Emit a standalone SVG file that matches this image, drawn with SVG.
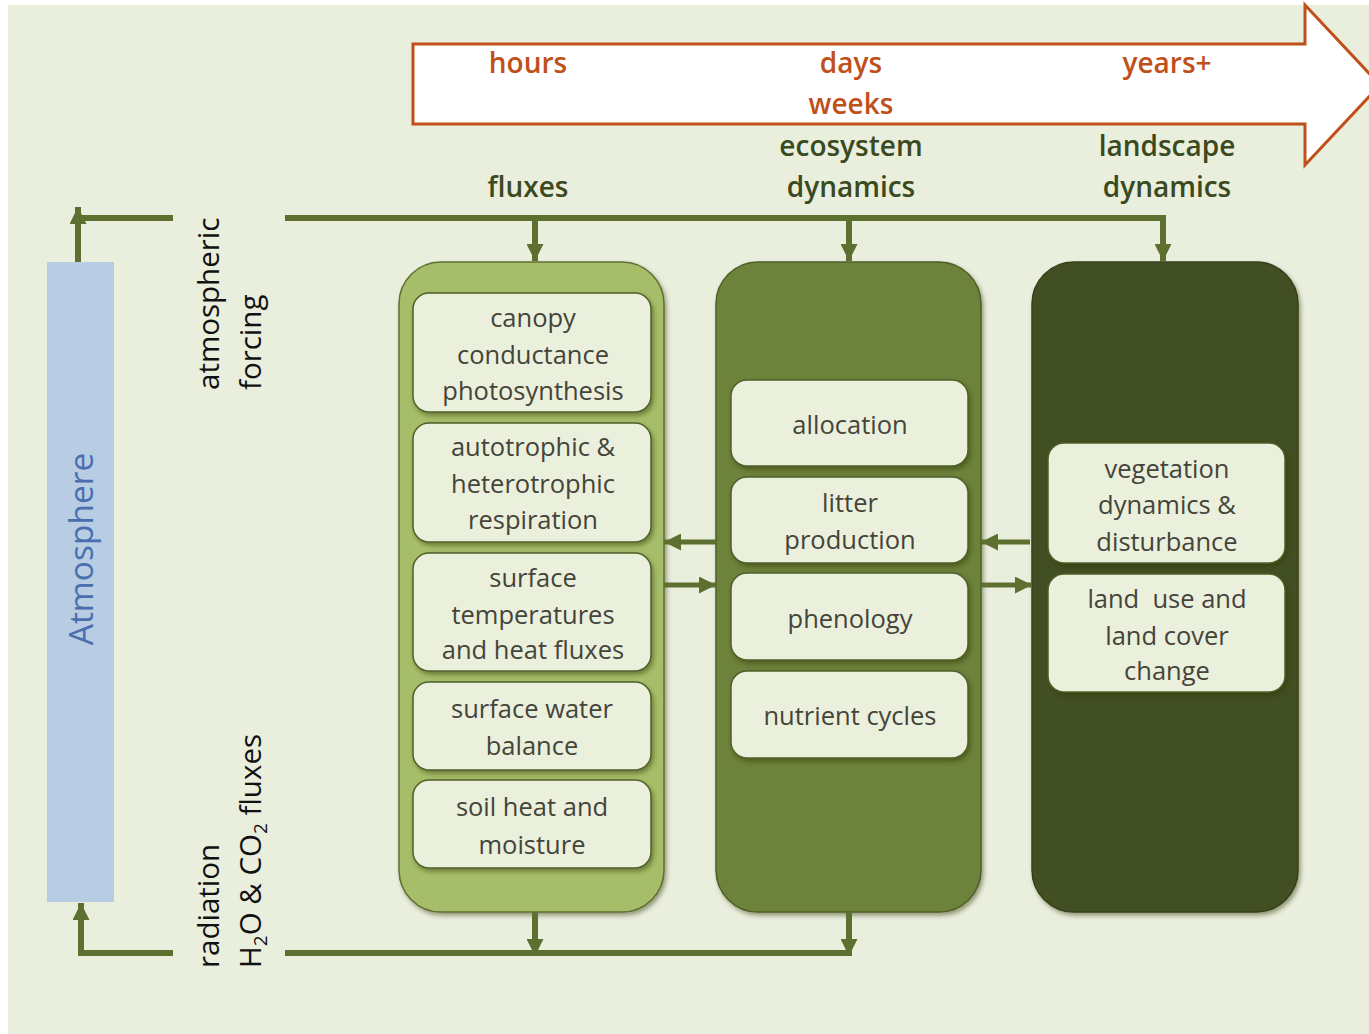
<svg xmlns="http://www.w3.org/2000/svg" width="1369" height="1034" viewBox="0 0 1369 1034">
<defs>
<style>
.bg{fill:#eaeedd}
.t{font-family:"Open Sans","Liberation Sans",sans-serif}
.time{font-family:"Open Sans","Liberation Sans",sans-serif;font-weight:600;font-size:28px;fill:#c0501a;text-anchor:middle}
.hdr{font-family:"Open Sans","Liberation Sans",sans-serif;font-weight:600;font-size:28px;fill:#3b4a1e;text-anchor:middle}
.box{fill:#ebf0dc;stroke:#4e5f28;stroke-width:1.5;filter:url(#sh)}
.bt{font-family:"Open Sans","Liberation Sans",sans-serif;font-size:25.5px;fill:#44443a;text-anchor:middle}
.side{font-family:"Open Sans","Liberation Sans",sans-serif;font-size:29.5px;fill:#111}
.con{fill:none;stroke:#5e7030;stroke-width:6}
.con2{fill:none;stroke:#5e7030;stroke-width:5}
</style>
<filter id="sh" x="-10%" y="-10%" width="125%" height="130%">
<feDropShadow dx="2" dy="3" stdDeviation="2" flood-color="#2a3310" flood-opacity="0.45"/>
</filter>
<marker id="ah" viewBox="0 0 10 10" refX="10" refY="5" markerWidth="17" markerHeight="17" markerUnits="userSpaceOnUse" orient="auto">
<path d="M0,0 L10,5 L0,10 z" fill="#5e7030"/>
</marker>
</defs>
<rect x="0" y="0" width="1369" height="1034" fill="#ffffff"/>
<rect class="bg" x="8" y="5" width="1361" height="1029"/>

<g id="timeline">
<polygon points="413,44 1305,44 1305,5 1380,85 1305,165 1305,124 413,124" fill="#ffffff" stroke="#c0501a" stroke-width="3"/>
<text class="time" x="528" y="73">hours</text>
<text class="time" x="851" y="73">days</text>
<text class="time" x="851" y="114">weeks</text>
<text class="time" x="1167" y="73">years+</text>
</g>

<g id="headers">
<text class="hdr" x="528" y="197">fluxes</text>
<text class="hdr" x="851" y="156">ecosystem</text>
<text class="hdr" x="851" y="197">dynamics</text>
<text class="hdr" x="1167" y="156">landscape</text>
<text class="hdr" x="1167" y="197">dynamics</text>
</g>

<g id="atmosphere">
<rect x="47" y="262" width="67" height="640" fill="#b8cce4"/>
<text class="t" transform="translate(93,549) rotate(-90)" text-anchor="middle" font-size="33.5" fill="#4a6fae">Atmosphere</text>
</g>

<g id="labels">
<text class="side" transform="translate(219,390) rotate(-90)">atmospheric</text>
<text class="side" transform="translate(261,390) rotate(-90)">forcing</text>
<text class="side" transform="translate(219,968) rotate(-90)">radiation</text>
<text class="side" transform="translate(261,968) rotate(-90)">H<tspan font-size="19" dy="6">2</tspan><tspan dy="-6">O &amp; CO</tspan><tspan font-size="19" dy="6">2</tspan><tspan dy="-6"> fluxes</tspan></text>
</g>

<g id="col-fluxes">
<rect x="399" y="262" width="265" height="650" rx="42" fill="#a6bd69" stroke="#5e7030" stroke-width="1.5" filter="url(#sh)"/>
<rect class="box" x="413" y="293" width="238" height="119" rx="16"/>
<text class="bt" x="533" y="327">canopy</text>
<text class="bt" x="533" y="364">conductance</text>
<text class="bt" x="533" y="400">photosynthesis</text>
<rect class="box" x="413" y="423" width="238" height="119" rx="16"/>
<text class="bt" x="533" y="456">autotrophic &amp;</text>
<text class="bt" x="533" y="493">heterotrophic</text>
<text class="bt" x="533" y="529">respiration</text>
<rect class="box" x="413" y="553" width="238" height="118" rx="16"/>
<text class="bt" x="533" y="587">surface</text>
<text class="bt" x="533" y="624">temperatures</text>
<text class="bt" x="533" y="659">and heat fluxes</text>
<rect class="box" x="413" y="682" width="238" height="88" rx="16"/>
<text class="bt" x="532" y="718">surface water</text>
<text class="bt" x="532" y="755">balance</text>
<rect class="box" x="413" y="780" width="238" height="88" rx="16"/>
<text class="bt" x="532" y="816">soil heat and</text>
<text class="bt" x="532" y="854">moisture</text>
</g>

<g id="col-ecosystem">
<rect x="716" y="262" width="265" height="650" rx="42" fill="#6d823a" stroke="#4e5f28" stroke-width="1.5" filter="url(#sh)"/>
<rect class="box" x="731" y="380" width="237" height="86" rx="16"/>
<text class="bt" x="850" y="434">allocation</text>
<rect class="box" x="731" y="477" width="237" height="86" rx="16"/>
<text class="bt" x="850" y="512">litter</text>
<text class="bt" x="850" y="549">production</text>
<rect class="box" x="731" y="573" width="237" height="87" rx="16"/>
<text class="bt" x="850" y="628">phenology</text>
<rect class="box" x="731" y="671" width="237" height="87" rx="16"/>
<text class="bt" x="850" y="725">nutrient cycles</text>
</g>

<g id="col-landscape">
<rect x="1032" y="262" width="266" height="650" rx="42" fill="#435024" stroke="#364019" stroke-width="1.5" filter="url(#sh)"/>
<rect class="box" x="1048" y="443" width="237" height="120" rx="16"/>
<text class="bt" x="1167" y="478">vegetation</text>
<text class="bt" x="1167" y="514">dynamics &amp;</text>
<text class="bt" x="1167" y="551">disturbance</text>
<rect class="box" x="1048" y="574" width="237" height="118" rx="16"/>
<text class="bt" x="1167" y="608" xml:space="preserve">land  use and</text>
<text class="bt" x="1167" y="645">land cover</text>
<text class="bt" x="1167" y="680">change</text>
</g>

<g id="connectors">
<path class="con" d="M78,262 V207" marker-end="url(#ah)"/>
<path class="con" d="M75,218 H173"/>
<path class="con" d="M285,218 H1163 V261" marker-end="url(#ah)"/>
<path class="con" d="M535,218 V261" marker-end="url(#ah)"/>
<path class="con" d="M849,218 V261" marker-end="url(#ah)"/>
<path class="con" d="M173,953 H81 V903" marker-end="url(#ah)"/>
<path class="con" d="M285,953 H852"/>
<path class="con" d="M535,912 V956" marker-end="url(#ah)"/>
<path class="con" d="M849,912 V956" marker-end="url(#ah)"/>
<path class="con2" d="M716,542 H664" marker-end="url(#ah)"/>
<path class="con2" d="M664,585 H716" marker-end="url(#ah)"/>
<path class="con2" d="M1030,542 H981" marker-end="url(#ah)"/>
<path class="con2" d="M981,585 H1032" marker-end="url(#ah)"/>
</g>
</svg>
